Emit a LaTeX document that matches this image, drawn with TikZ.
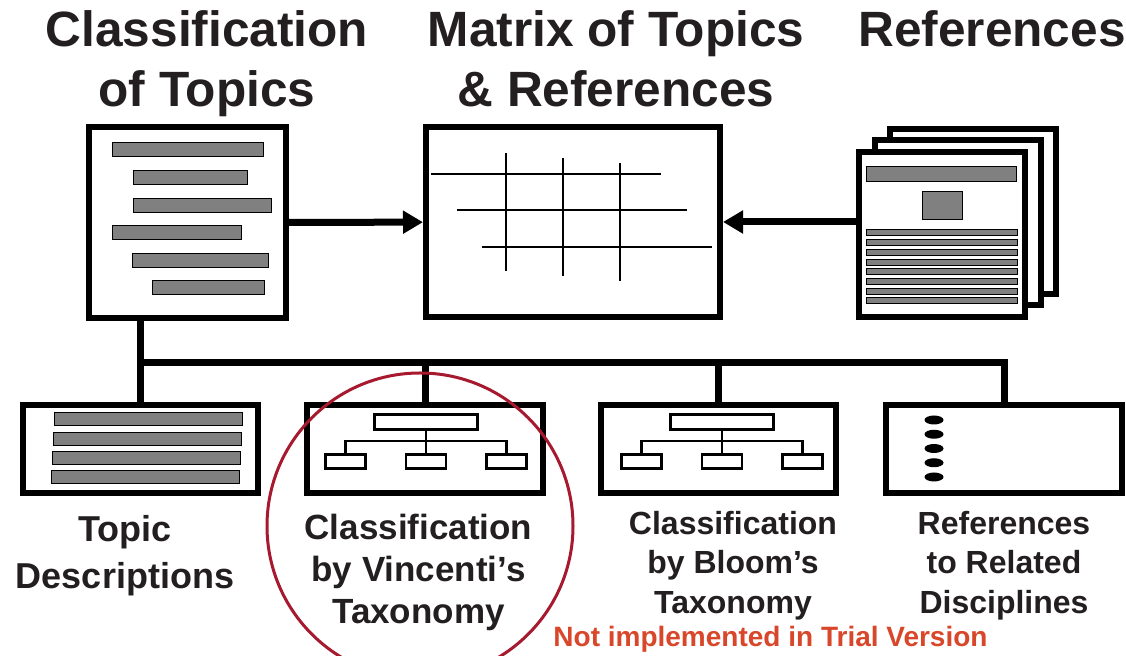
\documentclass[tikz,border=0pt]{standalone}
\usepackage{fontspec}
\setmainfont{Liberation Sans}
\usetikzlibrary{arrows.meta}
\definecolor{barGray}{HTML}{808080}
\definecolor{inkBlack}{HTML}{231F20}
\definecolor{ringRed}{HTML}{A6192E}
\definecolor{trialRed}{HTML}{D9472B}

\begin{document}
\begin{tikzpicture}[x=0.5pt, y=-0.5pt,
  frame/.style={draw, line width=3pt, fill=white, inner sep=0pt},
  bar/.style={draw, line width=0.5pt, fill=barGray},
  gridline/.style={line width=1pt},
  treebox/.style={draw, line width=1.4pt, fill=white, inner sep=0pt},
  twig/.style={line width=1.4pt},
  link/.style={line width=3.5pt},
  arrow/.style={line width=3.5pt, -{Triangle[length=10pt, width=11pt]}},
  heading/.style={font=\bfseries\fontsize{24.8}{30}\selectfont, text=inkBlack, align=center, inner sep=0pt, anchor=north},
  caption/.style={text=inkBlack, align=center, inner sep=0pt, anchor=north}
]
  \useasboundingbox (0,0) rectangle (1126,656);

  % top row
  \node[frame, minimum width=98.5pt, minimum height=95.5pt] (topics) at (187.5,222.5) {};
  \node[frame, minimum width=147pt, minimum height=95pt] (grid) at (573,222) {};
  \foreach \dx/\dy in {31/-23, 15.5/-11.5}
    \node[frame, minimum width=83pt, minimum height=82.5pt] at (942+\dx,234.5+\dy) {};
  \node[frame, minimum width=83pt, minimum height=82.5pt] (refs) at (942,234.5) {};

  % topic list
  \foreach \xa/\xb [count=\i from 0] in {112/263,133/247,133/271,112/241,132/268,152/264}
    \draw[bar] (\xa,143+27.6*\i) rectangle (\xb,157+27.6*\i);

  % matrix grid
  \foreach \i in {0,1,2} {
    \draw[gridline] (431+25.5*\i,174+36.5*\i) -- ++(230,0);
    \draw[gridline] (506+57*\i,153+5*\i) -- ++(0,118);
  }

  % reference page
  \draw[bar] (866,167) rectangle (1016,182);
  \draw[bar] (922,192) rectangle (962,220);
  \foreach \i in {0,...,7}
    \draw[bar] (866,230+9.7*\i) rectangle (1017,236+9.7*\i);

  \draw[arrow] (topics) -- (grid);
  \draw[arrow] (refs.west |- grid.west) -- (grid.east);

  % bottom row
  \node[frame, minimum width=117.5pt, minimum height=44pt] (descr) at (140.5,449) {};
  \node[frame, minimum width=118pt, minimum height=44pt] (vincenti) at (425,449) {};
  \node[frame, minimum width=117.5pt, minimum height=44pt] (bloom) at (718.5,449) {};
  \node[frame, minimum width=118pt, minimum height=44pt] (related) at (1004,449) {};

  \coordinate (bus) at (140.5,363);
  \draw[link] (topics.south -| descr.north) -- (descr.north);
  \draw[link] (bus) -- (bus -| related.north) -- (related.north);
  \foreach \n in {vincenti,bloom}
    \draw[link] (\n.north) -- (\n.north |- bus);

  % descriptions
  \foreach \i in {0,...,3}
    \draw[bar] (54-\i,413+19.3*\i) rectangle (242-0.7*\i,426+19.3*\i);

  % taxonomy trees
  \foreach \tx [count=\t] in {426,722} {
    \node[treebox, minimum width=51.5pt, minimum height=7.5pt] (root\t) at (\tx,422) {};
    \foreach \c in {1,2,3}
      \node[treebox, minimum width=20pt, minimum height=7pt] (leaf\t\c) at ({\tx+80.5*(\c-2)},461.5) {};
    \coordinate (fork\t) at (\tx,441);
    \draw[twig] (root\t.south) -- (leaf\t2.north);
    \draw[twig] (leaf\t1.north) |- (fork\t) -| (leaf\t3.north);
  }

  % related disciplines
  \foreach \i in {0,...,4}
    \fill (934,420+14.25*\i) ellipse [x radius=9.5, y radius=4.5];

  % labels
  \node[heading] (htopics) at (207,10) {Classification\\of Topics};
  \node[heading] (hgrid) at (616,10) {Matrix of Topics\\\& References};
  \node[heading] (hrefs) at (992,10) {References};
  \node[caption, font=\bfseries\fontsize{18}{23.5}\selectfont] (cdescr) at (125,515) {Topic\\Descriptions};
  \node[caption, font=\bfseries\fontsize{17.5}{21}\selectfont] (cvincenti) at (418.5,513.5) {Classification\\by Vincenti’s\\Taxonomy};
  \node[caption, font=\bfseries\fontsize{16}{19.75}\selectfont] (cbloom) at (733,510.5) {Classification\\by Bloom’s\\Taxonomy};
  \node[caption, font=\bfseries\fontsize{16}{19.75}\selectfont] (crelated) at (1004,510.5) {References\\to Related\\Disciplines};
  \node[caption, text=trialRed, font=\bfseries\fontsize{14}{17}\selectfont] (trial) at (770.5,626) {Not implemented in Trial Version};

  \draw[ringRed, line width=1.5pt] (420,526) circle [radius=153];
\end{tikzpicture}
\end{document}
